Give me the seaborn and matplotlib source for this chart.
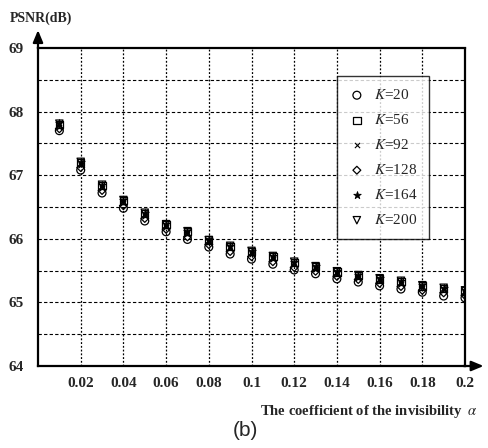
import numpy as np
import pandas as pd
import matplotlib
matplotlib.use("Agg")
import matplotlib.pyplot as plt
import seaborn as sns

alpha = [0.01, 0.02, 0.03, 0.04, 0.05, 0.06, 0.07, 0.08, 0.09, 0.10,
         0.11, 0.12, 0.13, 0.14, 0.15, 0.16, 0.17, 0.18, 0.19, 0.20]
k20  = [67.70, 67.08, 66.72, 66.48, 66.28, 66.11, 65.99, 65.87, 65.76, 65.68,
        65.60, 65.51, 65.45, 65.37, 65.32, 65.26, 65.21, 65.16, 65.10, 65.07]
k56  = [67.80, 67.20, 66.84, 66.60, 66.40, 66.22, 66.11, 65.98, 65.88, 65.80,
        65.72, 65.63, 65.56, 65.48, 65.42, 65.37, 65.33, 65.26, 65.22, 65.18]
k92  = [67.76, 67.16, 66.80, 66.56, 66.36, 66.19, 66.07, 65.95, 65.85, 65.76,
        65.69, 65.60, 65.53, 65.45, 65.39, 65.34, 65.29, 65.23, 65.19, 65.15]
k128 = [67.73, 67.12, 66.76, 66.52, 66.32, 66.15, 66.03, 65.91, 65.80, 65.72,
        65.64, 65.55, 65.49, 65.41, 65.36, 65.30, 65.25, 65.19, 65.15, 65.11]
k164 = [67.82, 67.21, 66.85, 66.61, 66.41, 66.23, 66.12, 65.99, 65.89, 65.81,
        65.73, 65.64, 65.57, 65.49, 65.43, 65.38, 65.34, 65.27, 65.23, 65.19]
k200 = [67.81, 67.21, 66.85, 66.61, 66.41, 66.23, 66.12, 65.98, 65.89, 65.81,
        65.73, 65.64, 65.57, 65.49, 65.43, 65.38, 65.34, 65.27, 65.23, 65.19]
labels = ["K=20", "K=56", "K=92", "K=128", "K=164", "K=200"]
xticks = [0.02, 0.04, 0.06, 0.08, 0.1, 0.12, 0.14, 0.16, 0.18, 0.2]
xticklabels = ["0.02", "0.04", "0.06", "0.08", "0.1", "0.12", "0.14", "0.16", "0.18", "0.2"]
yticks = [64, 65, 66, 67, 68, 69]

sns.set_theme(style="white")
plt.rcParams["font.family"] = ["Liberation Serif", "DejaVu Serif"]
plt.rcParams["mathtext.fontset"] = "stix"

series = [k20, k56, k92, k128, k164, k200]
df = pd.concat([pd.DataFrame({"alpha": alpha, "psnr": v, "K": lab})
                for v, lab in zip(series, labels)], ignore_index=True)

fig = plt.figure(figsize=(4.89, 4.48), dpi=100)
ax = fig.add_axes([38/489, 1-366/448, (465-38)/489, (366-48)/448])

styles = {
    "K=20":  dict(marker="o", s=32, facecolor="none", linewidth=0.9),
    "K=56":  dict(marker="s", s=28, facecolor="none", linewidth=0.9),
    "K=92":  dict(marker="x", s=14, linewidth=0.8),
    "K=128": dict(marker="D", s=16, facecolor="none", linewidth=0.9),
    "K=164": dict(marker="*", s=32, linewidth=0.6),
    "K=200": dict(marker="v", s=28, facecolor="none", linewidth=0.9),
}
for lab in labels:
    sub = df[df["K"] == lab]
    kw = dict(styles[lab])
    name = "$K$=" + lab.split("=")[1]
    if kw["marker"] in ("x",):
        sns.scatterplot(data=sub, x="alpha", y="psnr", ax=ax, color="black",
                        label=name, zorder=3, **kw)
    else:
        sns.scatterplot(data=sub, x="alpha", y="psnr", ax=ax, color="black",
                        edgecolor="black", label=name, zorder=3, **kw)

ax.set_xlim(0, 0.2)
ax.set_ylim(64, 69)
ax.set_xticks(xticks)
ax.set_xticklabels(xticklabels)
ax.set_yticks(yticks)
ax.set_xlabel("")
ax.set_ylabel("")
ax.tick_params(axis="both", length=0, labelsize=11, pad=8)
for t in ax.get_xticklabels() + ax.get_yticklabels():
    t.set_fontweight("bold")
ax.tick_params(axis="y", pad=10)

# grid lines
for yv in [64.5, 65, 65.5, 66, 66.5, 67, 67.5, 68, 68.5]:
    ax.axhline(yv, color="black", lw=0.8, ls=(0, (3, 2)), zorder=1)
for xv in xticks:
    ax.axvline(xv, color="black", lw=0.9, ls=(0, (1.5, 1.5)), zorder=1)

for side in ["left", "bottom"]:
    ax.spines[side].set_color("black")
    ax.spines[side].set_linewidth(1.6)
for side in ["top", "right"]:
    ax.spines[side].set_color("black")
    ax.spines[side].set_linewidth(1.6)
    ax.spines[side].set_linestyle((0, (1, 1)))

# axis arrows
ax.annotate("", xy=(0, 1.065), xytext=(0, 0.99), xycoords="axes fraction",
            arrowprops=dict(arrowstyle="-|>,head_length=0.6,head_width=0.25",
                            color="black", lw=1.6), annotation_clip=False)
ax.annotate("", xy=(1.05, 0), xytext=(0.99, 0), xycoords="axes fraction",
            arrowprops=dict(arrowstyle="-|>,head_length=0.6,head_width=0.25",
                            color="black", lw=1.6), annotation_clip=False)

leg = ax.legend(loc="upper left", bbox_to_anchor=((337-38)/427, 1-(76-48)/318),
                frameon=True, fancybox=False, edgecolor="black",
                prop={"size": 11}, labelspacing=0.72, handletextpad=0.6,
                borderpad=0.8, handlelength=1.0, borderaxespad=0)
leg.get_frame().set_linewidth(1.0)
leg.set_zorder(5)

fig.text(10/489, 1-18/448, "PSNR(dB)", fontsize=10, fontweight="bold",
         va="center", ha="left")
fig.text(478/489, 1-412/448, "The coefficient of the invisibility  $\\alpha$",
         fontsize=10.5, fontweight="bold", ha="right", va="center")
fig.text(245/489, 1-430/448, "(b)", fontsize=15, ha="center", va="center",
         family=["Liberation Sans", "DejaVu Sans"])

fig.savefig("out.png", dpi=100, facecolor="white")
